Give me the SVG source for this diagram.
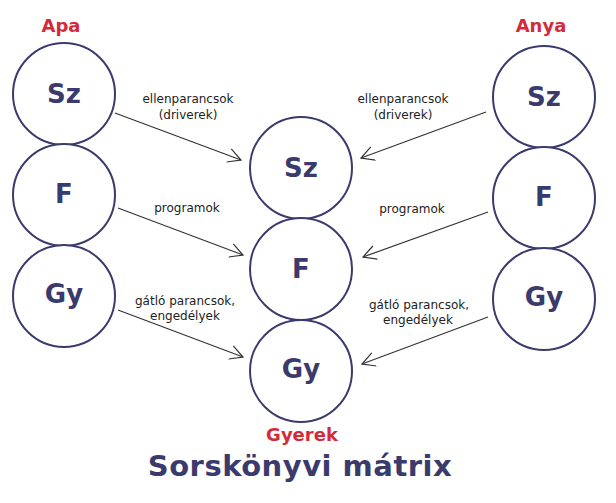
<svg xmlns="http://www.w3.org/2000/svg" width="616" height="503" viewBox="0 0 616 503">
<defs>
<style>
.c{fill:#ffffff;stroke:#3a3a6c;stroke-width:2}
.n{font-family:"DejaVu Sans","Verdana",sans-serif;font-weight:bold;font-size:26px;fill:#3a3a6c;text-anchor:middle}
.r{font-family:"DejaVu Sans","Verdana",sans-serif;font-weight:bold;font-size:18px;fill:#d42a3a;text-anchor:middle}
.l{font-family:"DejaVu Sans","Verdana",sans-serif;font-size:12px;fill:#222;text-anchor:middle}
.t{font-family:"DejaVu Sans","Verdana",sans-serif;font-weight:bold;font-size:29px;letter-spacing:0.5px;fill:#3a3a6c;text-anchor:middle}
.e{stroke:#333;stroke-width:1.2;fill:none}
</style>
<marker id="arr" markerUnits="userSpaceOnUse" markerWidth="16" markerHeight="16" refX="13" refY="8" orient="auto">
<path d="M0,1 L13,8 L0,15" fill="none" stroke="#333" stroke-width="1.2"/>
</marker>
</defs>
<rect width="616" height="503" fill="#ffffff"/>
<g id="apa">
<text class="r" x="61" y="32">Apa</text>
</g>
<g id="anya">
<text class="r" x="541" y="32">Anya</text>
</g>
<g id="apa-sz"><circle class="c" cx="64" cy="94" r="51"/><text class="n" x="64" y="103">Sz</text></g>
<g id="apa-f"><circle class="c" cx="64" cy="195" r="51"/><text class="n" x="64" y="203">F</text></g>
<g id="apa-gy"><circle class="c" cx="64" cy="296" r="51"/><text class="n" x="64" y="303">Gy</text></g>
<g id="anya-sz"><circle class="c" cx="544" cy="97" r="51"/><text class="n" x="544" y="106">Sz</text></g>
<g id="anya-f"><circle class="c" cx="544" cy="198" r="51"/><text class="n" x="544" y="206">F</text></g>
<g id="anya-gy"><circle class="c" cx="544" cy="299" r="51"/><text class="n" x="544" y="306">Gy</text></g>
<g id="gyerek-sz"><circle class="c" cx="301" cy="168" r="51"/><text class="n" x="301" y="177">Sz</text></g>
<g id="gyerek-f"><circle class="c" cx="301" cy="269" r="51"/><text class="n" x="301" y="278">F</text></g>
<g id="gyerek-gy"><circle class="c" cx="301" cy="371" r="51"/><text class="n" x="301" y="378">Gy</text></g>
<g id="gyerek"><text class="r" x="302" y="441">Gyerek</text></g>
<g id="connectors">
<line class="e" x1="115" y1="113" x2="241" y2="160" marker-end="url(#arr)"/>
<line class="e" x1="118" y1="208" x2="243" y2="255" marker-end="url(#arr)"/>
<line class="e" x1="118" y1="310" x2="243" y2="357" marker-end="url(#arr)"/>
<line class="e" x1="486" y1="112" x2="361" y2="158" marker-end="url(#arr)"/>
<line class="e" x1="488" y1="212" x2="363" y2="257" marker-end="url(#arr)"/>
<line class="e" x1="488" y1="317" x2="362" y2="364" marker-end="url(#arr)"/>
<text class="l" x="188" y="103">ellenparancsok</text>
<text class="l" x="188" y="119">(driverek)</text>
<text class="l" x="403" y="103">ellenparancsok</text>
<text class="l" x="403" y="119">(driverek)</text>
<text class="l" x="187" y="212">programok</text>
<text class="l" x="412" y="213">programok</text>
<text class="l" x="185" y="305">gátló parancsok,</text>
<text class="l" x="185" y="320">engedélyek</text>
<text class="l" x="419" y="309">gátló parancsok,</text>
<text class="l" x="418" y="324">engedélyek</text>
</g>
<g id="title"><text class="t" x="300" y="476">Sorskönyvi mátrix</text></g>
</svg>
